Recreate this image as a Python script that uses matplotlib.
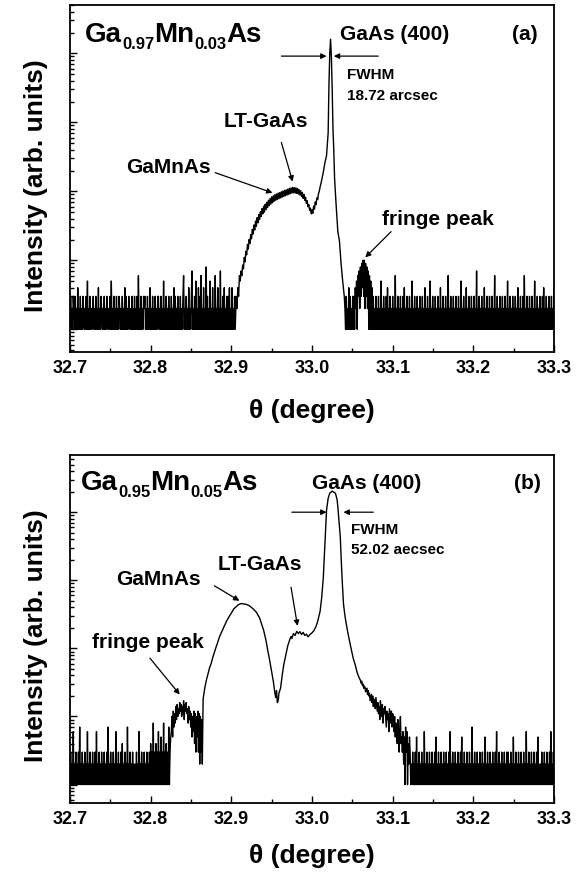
import numpy as np
import matplotlib
matplotlib.use("Agg")
import matplotlib.pyplot as plt
import matplotlib.transforms as mtransforms
from matplotlib.ticker import MultipleLocator, LogLocator, NullFormatter

plt.rcParams['font.family'] = ['Liberation Sans', 'DejaVu Sans']
plt.rcParams['font.weight'] = 'bold'

# scan step (deg) of the noisy parts; counts written as base-36 digits
STEP = 0.0008
HUMP_STEP = 0.001

# ---- (a) Ga0.97Mn0.03As ----
a_left_start = 32.700
a_left_counts = ("13121321312141213121321213151213121231213121412132"
                 "12131213212131512131213121321213121413121321213121"
                 "31213161213121323121312141213121312133121312151213"
                 "12131213121413121312131213612131214121371213151214"
                 "13161214121813121512141216121412171213141213131412"
                 "14121312")
# GaMnAs + LT-GaAs hump, one value per HUMP_STEP from a_hump_start
a_hump_start = 32.906
a_hump_int = [3, 2, 4, 3, 6, 5, 7, 6, 8.5, 7.5,
              11, 9.5, 13.5, 12, 17, 14.5, 20, 17.5, 23.5, 20.5,
              28, 24, 32.5, 27.5, 37, 31, 41.5, 35, 46, 39,
              50.5, 43, 56, 47, 60.5, 50, 65, 54, 69.5, 58,
              74, 62, 78.5, 65, 83, 68, 86, 71, 89.5, 74,
              91.5, 76, 94, 78, 96, 80, 98.5, 82, 101, 84,
              103, 86, 105, 88, 107.5, 90, 110, 92, 112, 94,
              114, 95, 113, 94, 112, 93, 110, 91, 106, 88,
              102, 84, 96, 79, 90, 74, 82, 67, 73, 60,
              64, 53, 57, 47, 54, 48, 61, 55, 70, 64,
              80, 76, 92, 100]
# GaAs(400) substrate peak
a_peak_theta = [33.010, 33.012, 33.014, 33.016, 33.018, 33.020,
                33.021, 33.022, 33.023, 33.024, 33.025, 33.026, 33.027, 33.028,
                33.030, 33.032, 33.034, 33.036, 33.038]
a_peak_int = [115, 145, 190, 260, 330, 700,
              3600, 10000, 16000, 9000, 3000, 800, 390, 150,
              60, 26, 19, 9, 5]
a_right_start = 33.040
a_right_counts = ("321312141312131"
                  "31425163728394a3a29382716151413"
                  "12131213121512131213141213121312161213121312131412"
                  "13121312151213121312131213121412131215121312131213"
                  "12141213121312161213121312131213121512131214121312"
                  "13121312171213121312141213121312131216121312131213"
                  "12131215121312131213121412131213161213121312131215"
                  "121312131213141213121312131214121312131213")

# ---- (b) Ga0.95Mn0.05As ----
b_left_start = 32.700
b_left_counts = ("13121612131213171213121312161213121312131612131213"
                 "12131213171213121312161213121314121312171213121312"
                 "1213121612131213121312"
                 "13141318131413161315131813141317135"
                 "6a5c7b8e9fadbgcfaebh9fcgbd8e9c7b5a6c4b3a5c3b2a392")
b_peak_theta = [32.865, 32.867, 32.869, 32.871, 32.873, 32.875, 32.877, 32.879, 32.881, 32.883,
                32.885, 32.888, 32.891, 32.894, 32.897, 32.900, 32.903, 32.906, 32.909, 32.912,
                32.915, 32.918, 32.922, 32.926, 32.931, 32.935, 32.940, 32.943, 32.945, 32.947,
                32.950, 32.952, 32.954, 32.955, 32.956, 32.957, 32.958, 32.959, 32.961, 32.963,
                32.965, 32.968, 32.970, 32.972, 32.974, 32.975, 32.977, 32.979, 32.981, 32.983,
                32.985, 32.987, 32.989, 32.991, 32.993, 32.995, 32.997, 32.999, 33.002, 33.005,
                33.007, 33.010, 33.012, 33.014, 33.016, 33.018, 33.020, 33.022, 33.025, 33.029,
                33.031, 33.032, 33.035, 33.037, 33.039, 33.041, 33.044, 33.047, 33.051, 33.054,
                33.056, 33.058]
b_peak_int = [18, 26, 34, 42, 52, 60, 74, 88, 104, 122,
              145, 175, 210, 250, 290, 330, 380, 410, 440, 455,
              450, 445, 425, 390, 340, 280, 185, 130, 95, 72,
              45, 33, 22, 19, 24, 16, 17, 22, 26, 40,
              58, 85, 110, 130, 150, 140, 165, 155, 178, 165,
              176, 160, 172, 155, 162, 148, 158, 165, 180, 210,
              250, 350, 560, 1100, 3500, 10700, 16000, 19000, 20400, 19000,
              15500, 12000, 4400, 1230, 450, 290, 180, 120, 72, 55,
              44, 38]
b_right_start = 33.060
b_right_counts = ("yvxtuqsrnpqlo"
                  "kmhjlgkeihdjf"
                  "cgbe9hcaf8dbe"
                  "a7c9b6da8c7b9"
                  "6a58749637a45"
                  "3625173614253"
                  "12131213151213121312161213121312131213151213121312"
                  "13121312131612131213121312131512131213121312171213"
                  "12131213121312151213121312131213161213121312131213"
                  "13121312151213121312131213121612131213121312131512"
                  "121312131213121316121312131213121312131213121")

x_ticks = [32.7, 32.8, 32.9, 33.0, 33.1, 33.2, 33.3]


def scan(start, digits):
    vals = [int(c, 36) for c in digits]
    th = start + STEP * np.arange(len(vals))
    return th, np.array(vals, dtype=float)


a_l = scan(a_left_start, a_left_counts)
a_r = scan(a_right_start, a_right_counts)
a_h_th = a_hump_start + HUMP_STEP * np.arange(len(a_hump_int))
a_theta = np.concatenate([a_l[0], a_h_th, a_peak_theta, a_r[0]])
a_int = np.concatenate([a_l[1], a_hump_int, a_peak_int, a_r[1]])

b_l = scan(b_left_start, b_left_counts)
b_r = scan(b_right_start, b_right_counts)
b_theta = np.concatenate([b_l[0], b_peak_theta, b_r[0]])
b_int = np.concatenate([b_l[1], b_peak_int, b_r[1]])

fig = plt.figure(figsize=(5.83, 8.77), dpi=100)
ax_a = fig.add_axes([0.1201, 0.5986, 0.8302, 0.3957])
ax_b = fig.add_axes([0.1201, 0.0844, 0.8302, 0.3968])

panels = [(ax_a, a_theta, a_int, (10 ** -0.33, 10 ** 4.70)),
          (ax_b, b_theta, b_int, (10 ** -0.27, 10 ** 4.84))]

for ax, th, iv, ylim in panels:
    ax.plot(th, iv, color='black', lw=1.0)
    ax.set_yscale('log')
    ax.set_xlim(32.7, 33.3)
    ax.set_ylim(*ylim)
    ax.set_xticks(x_ticks)
    ax.set_xticklabels(["%.1f" % v for v in x_ticks])
    ax.xaxis.set_minor_locator(MultipleLocator(0.05))
    ax.yaxis.set_major_locator(LogLocator(base=10, numticks=20))
    ax.yaxis.set_minor_locator(LogLocator(base=10, subs=np.arange(2, 10), numticks=20))
    ax.yaxis.set_major_formatter(NullFormatter())
    ax.yaxis.set_minor_formatter(NullFormatter())
    ax.tick_params(which='both', direction='in', top=False, right=False, width=1.0)
    ax.tick_params(which='major', length=5, labelsize=13, pad=6)
    ax.tick_params(which='minor', length=3)
    for s in ax.spines.values():
        s.set_linewidth(1.3)
    ax.set_xlabel("θ (degree)", fontsize=19, fontweight='bold')
    ax.set_ylabel("Intensity (arb. units)", fontsize=19, fontweight='bold')
    ax.yaxis.set_label_coords(-0.045, 0.48)

ax_a.xaxis.set_label_coords(0.5, -0.135)
ax_b.xaxis.set_label_coords(0.5, -0.118)

renderer = fig.canvas.get_renderer()


def formula(ax, x, y, parts, size=20, subsize=12, drop=7):
    # write a chemical formula piece by piece, subscripts lowered
    dx = 0
    for s, sub in parts:
        tr = mtransforms.offset_copy(ax.transAxes, fig=fig, x=dx, y=-drop if sub else 0, units='dots')
        t = ax.text(x, y, s, transform=tr, fontsize=subsize if sub else size, va='baseline')
        dx += t.get_window_extent(renderer).width


arrow = dict(arrowstyle='-|>', color='black', lw=0.9, mutation_scale=8, shrinkA=0, shrinkB=0)

# panel (a) labels
formula(ax_a, 0.031, 0.893, [("Ga", False), ("0.97", True), ("Mn", False), ("0.03", True), ("As", False)])
ax_a.text(0.558, 0.899, "GaAs (400)", transform=ax_a.transAxes, fontsize=15, va='baseline')
ax_a.text(0.967, 0.899, "(a)", transform=ax_a.transAxes, fontsize=15, va='baseline', ha='right')
ax_a.text(0.572, 0.787, "FWHM", transform=ax_a.transAxes, fontsize=11, va='baseline')
ax_a.text(0.572, 0.726, "18.72 arcsec", transform=ax_a.transAxes, fontsize=11, va='baseline')
ax_a.text(0.318, 0.648, "LT-GaAs", transform=ax_a.transAxes, fontsize=15, va='baseline')
ax_a.text(0.115, 0.515, "GaMnAs", transform=ax_a.transAxes, fontsize=15, va='baseline')
ax_a.text(0.645, 0.366, "fringe peak", transform=ax_a.transAxes, fontsize=15, va='baseline')
ax_a.annotate("", xy=(33.018, 9100), xytext=(32.962, 9100), arrowprops=arrow)
ax_a.annotate("", xy=(33.027, 9100), xytext=(33.082, 9100), arrowprops=arrow)
ax_a.annotate("", xy=(32.976, 138), xytext=(32.962, 510), arrowprops=arrow)
ax_a.annotate("", xy=(32.951, 95), xytext=(32.880, 186), arrowprops=arrow)
ax_a.annotate("", xy=(33.066, 11), xytext=(33.098, 26), arrowprops=arrow)

# panel (b) labels
formula(ax_b, 0.023, 0.899, [("Ga", False), ("0.95", True), ("Mn", False), ("0.05", True), ("As", False)])
ax_b.text(0.500, 0.902, "GaAs (400)", transform=ax_b.transAxes, fontsize=15, va='baseline')
ax_b.text(0.973, 0.902, "(b)", transform=ax_b.transAxes, fontsize=15, va='baseline', ha='right')
ax_b.text(0.581, 0.773, "FWHM", transform=ax_b.transAxes, fontsize=11, va='baseline')
ax_b.text(0.581, 0.716, "52.02 aecsec", transform=ax_b.transAxes, fontsize=11, va='baseline')
ax_b.text(0.304, 0.670, "LT-GaAs", transform=ax_b.transAxes, fontsize=15, va='baseline')
ax_b.text(0.096, 0.626, "GaMnAs", transform=ax_b.transAxes, fontsize=15, va='baseline')
ax_b.text(0.046, 0.445, "fringe peak", transform=ax_b.transAxes, fontsize=15, va='baseline')
ax_b.annotate("", xy=(33.018, 10000), xytext=(32.975, 10000), arrowprops=arrow)
ax_b.annotate("", xy=(33.039, 10000), xytext=(33.076, 10000), arrowprops=arrow)
ax_b.annotate("", xy=(32.982, 214), xytext=(32.974, 790), arrowprops=arrow)
ax_b.annotate("", xy=(32.910, 500), xytext=(32.879, 830), arrowprops=arrow)
ax_b.annotate("", xy=(32.836, 21), xytext=(32.799, 72), arrowprops=arrow)

fig.savefig("out.png", dpi=100)
